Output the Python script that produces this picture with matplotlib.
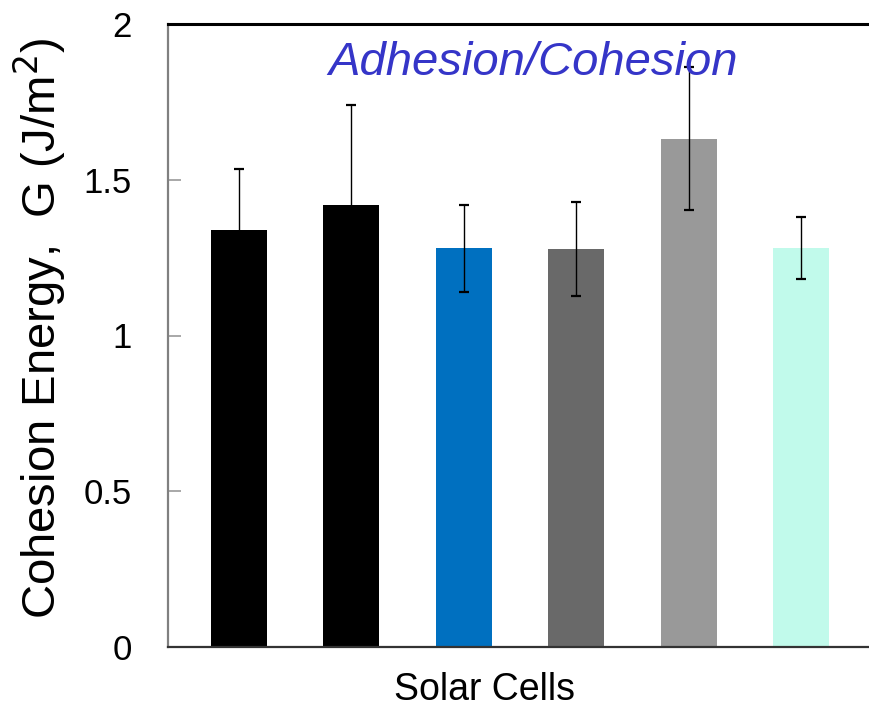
import numpy as np
import matplotlib
matplotlib.use("Agg")
import matplotlib.pyplot as plt

plt.rcParams["font.family"] = ["Liberation Sans", "DejaVu Sans"]

# bar heights and symmetric errors
means = [1.338, 1.418, 1.280, 1.277, 1.632, 1.280]
errs = [0.195, 0.323, 0.140, 0.150, 0.230, 0.100]
colors = ["#000000", "#000000", "#0070C0", "#696969", "#999999", "#C1FAEB"]

fig = plt.figure(figsize=(8.69, 7.12), dpi=100)
ax = fig.add_axes([168/869, 65/712, 704/869, 623/712])

x = np.arange(len(means))
ax.bar(x, means, width=0.5, color=colors, zorder=2)
ax.errorbar(x, means, yerr=errs, fmt="none", ecolor="black", elinewidth=1.0,
            capsize=3.6, capthick=1.6, zorder=3)

ax.set_xlim(-0.631, len(means) - 1 + 0.631)
ax.set_ylim(0, 2)
ax.set_yticks([0, 0.5, 1, 1.5, 2])
ax.set_yticklabels(["0", "0.5", "1", "1.5", "2"])
ax.set_xticks([])
ax.tick_params(axis="y", direction="in", length=9, width=1.2, color="#999999",
               pad=26, labelsize=25)

ax.spines["right"].set_visible(False)
ax.spines["top"].set_linewidth(2.2)
ax.spines["top"].set_color("black")
ax.spines["left"].set_color("#808080")
ax.spines["left"].set_linewidth(1.6)
ax.spines["bottom"].set_color("#333333")
ax.spines["bottom"].set_linewidth(1.6)

ax.set_ylabel(r"Cohesion Energy,  G (J/m$^2$)", fontsize=34)
ax.yaxis.set_label_coords(-0.183, 0.512)
ax.yaxis.label.set_va("center")

ax.text(0.45, -0.069, "Solar Cells", transform=ax.transAxes, ha="center",
        va="center", fontsize=27)
ax.text(0.519, 0.938, "Adhesion/Cohesion", transform=ax.transAxes, ha="center",
        va="center", fontsize=34, style="italic", color="#3535C8")

fig.savefig("out.png", dpi=100)
